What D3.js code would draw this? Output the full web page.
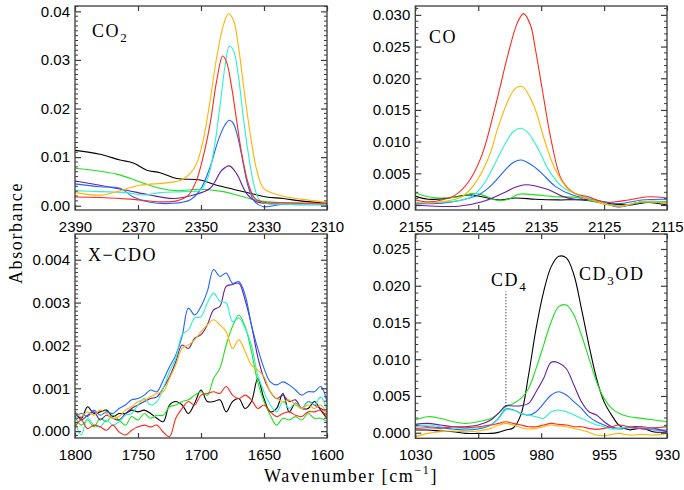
<!DOCTYPE html>
<html>
<head>
<meta charset="utf-8">
<script src="https://cdn.jsdelivr.net/npm/d3@7"></script>
<style>
  html, body { margin: 0; padding: 0; background: #fff; }
  svg { display: block; }
  .tick text { font-family: "Liberation Sans", Arial, sans-serif; font-size: 15px; fill: #000; }
  .lbl { font-family: "Liberation Serif", "Times New Roman", serif; font-size: 18px; letter-spacing: 1.6px; fill: #000; }
</style>
</head>
<body>
<svg id="chart" width="684" height="490"></svg>
<script>
// ---------- series colours (one per spectrum) ----------
const seriesNames = ["black", "green", "purple", "blue", "cyan", "red", "orange"];
const seriesColors = {
  black: "#000000", green: "#1ee01e", purple: "#6a1f9e", blue: "#1e66ff",
  cyan: "#2ff0cc", red: "#ff2a1a", orange: "#ffb400"
};

// ---------- CO2 band, [wavenumber, absorbance] ----------
const co2Black  = [[2390,0.0114],[2382.1,0.0106],[2375.7,0.0094],[2371.5,0.0088],[2367.2,0.0073],[2363,0.0068],[2357.7,0.0056],[2350.3,0.0053],[2345,0.0042],[2339.7,0.0034],[2333.4,0.0024],[2329.2,0.0018],[2323.9,0.0015],[2318.6,0.001],[2310,0.0005]];
const co2Green  = [[2390,0.0077],[2376.8,0.0065],[2369.4,0.0049],[2363,0.0036],[2357.7,0.0031],[2350.3,0.0034],[2342.9,0.0029],[2337.6,0.002],[2331.3,0.001],[2323.9,0.0006],[2310,0.0003]];
const co2Purple = [[2390,0.0051],[2382.1,0.0042],[2373.6,0.0032],[2366.2,0.0022],[2358.8,0.0015],[2352.4,0.0022],[2347.1,0.0036],[2343.4,0.0073],[2341,0.0082],[2338.7,0.0066],[2335.5,0.0025],[2332.3,0.0008],[2323.9,0.0003],[2310,0.0002]];
const co2Blue   = [[2390,0.0045],[2382.1,0.0039],[2375.7,0.0036],[2371.5,0.0018],[2366.2,0.0007],[2358.8,0.0005],[2353.5,0.0012],[2350.3,0.0032],[2347.1,0.008],[2344.5,0.0135],[2342.4,0.0166],[2341,0.0176],[2339.7,0.0169],[2338.1,0.0135],[2336.6,0.0087],[2335,0.0039],[2332.9,0.0008],[2330.2,-0.0002],[2323.9,0.0003],[2310,0.0002]];
const co2Cyan   = [[2390,0.0031],[2382.1,0.0029],[2373.6,0.0027],[2368.3,0.0022],[2363,0.0027],[2355.6,0.0029],[2350.3,0.0032],[2347.7,0.006],[2345.6,0.0128],[2344,0.0203],[2342.4,0.0286],[2341,0.0328],[2339.7,0.032],[2338.1,0.0265],[2336.6,0.0183],[2335,0.0108],[2333.4,0.0049],[2331.8,0.0015],[2330.2,0.0006],[2323.9,0.0003],[2310,0.0003]];
const co2Red    = [[2390,0.0018],[2382.1,0.0017],[2371.5,0.0013],[2363,0.0008],[2357.7,0.001],[2354,0.0022],[2351.4,0.0053],[2349.3,0.0101],[2347.1,0.0169],[2345,0.0258],[2343.1,0.0308],[2341.9,0.0296],[2340.3,0.0245],[2338.7,0.0176],[2337.1,0.0108],[2335,0.0046],[2332.9,0.0015],[2330.2,0.0007],[2323.9,0.0006],[2310,0.0005]];
const co2Orange = [[2390,0.0027],[2381,0.0022],[2375.7,0.0031],[2369.4,0.0042],[2360.9,0.0047],[2356.1,0.0053],[2353.5,0.0066],[2351.4,0.0087],[2349.3,0.0135],[2347.1,0.0217],[2345,0.0306],[2342.9,0.0371],[2341.3,0.0395],[2339.7,0.0382],[2338.1,0.0327],[2336.6,0.0252],[2334.4,0.0149],[2332.3,0.0073],[2330.2,0.0036],[2327,0.0025],[2322.8,0.0018],[2316.5,0.0012],[2310,0.0007]];

// ---------- CO band, [wavenumber, absorbance] ----------
const coBlack  = [[2155,0.0014],[2152.9,0.0009],[2149.7,0.0011],[2146.5,0.0016],[2144.4,0.0013],[2141.8,0.0008],[2139.1,0.0011],[2135.9,0.0009],[2132.2,0.0008],[2128.5,0.0008],[2124.8,0.0003],[2121.1,0.0],[2117.9,0.0004],[2115,0.0]];
const coGreen  = [[2155,0.0019],[2152.9,0.0013],[2150.8,0.0011],[2148.1,0.0013],[2146,0.0018],[2144.4,0.0016],[2141.8,0.0007],[2140.2,0.0009],[2138.6,0.0017],[2135.9,0.0016],[2132.7,0.0013],[2129.6,0.0012],[2126.4,0.0005],[2122.7,-0.0002],[2119,0.0004],[2115,0.0003]];
const coPurple = [[2155,0.0],[2148.1,-0.0002],[2144.4,0.0005],[2141.2,0.0018],[2139.1,0.0028],[2137.5,0.0032],[2135.9,0.003],[2133.8,0.0024],[2131.7,0.0014],[2129.6,0.0009],[2126.4,0.0008],[2122.7,-0.0003],[2119,0.0005],[2115,0.0005]];
const coBlue   = [[2155,0.0002],[2150.8,0.0003],[2147.6,0.0008],[2144.9,0.0016],[2142.8,0.0032],[2141.2,0.005],[2139.6,0.0066],[2138.2,0.0071],[2136.5,0.0063],[2134.9,0.005],[2132.7,0.0029],[2130.1,0.0016],[2126.4,0.0008],[2122.7,0.0002],[2119,0.0008],[2115,0.0009]];
const coCyan   = [[2155,0.0004],[2149.7,0.0005],[2146.5,0.0011],[2144.4,0.0029],[2142.3,0.0066],[2140.7,0.0097],[2139.4,0.0116],[2138.2,0.0121],[2137,0.0113],[2135.4,0.0087],[2133.8,0.0055],[2131.7,0.0029],[2129.6,0.0018],[2126.4,0.0008],[2122.7,-0.0002],[2119,0.0005],[2115,0.0005]];
const coRed    = [[2155,0.0008],[2152.9,0.0005],[2150.8,0.0008],[2148.6,0.0016],[2146.5,0.0037],[2144.4,0.0079],[2142.3,0.0155],[2140.2,0.024],[2138.8,0.0287],[2137.8,0.0302],[2136.7,0.0284],[2135.9,0.0245],[2134.9,0.0187],[2133.3,0.0097],[2131.7,0.0039],[2129.6,0.0018],[2127.5,0.0013],[2125.3,0.0005],[2123.2,0.0005],[2121.1,0.0008],[2117.9,0.0013],[2115,0.0011]];
const coOrange = [[2155,0.0005],[2152.9,0.0003],[2150.8,0.0005],[2147.6,0.0013],[2145.5,0.0034],[2143.3,0.0076],[2141.8,0.0124],[2140.2,0.0166],[2139.1,0.0184],[2138,0.0187],[2137,0.0174],[2135.9,0.015],[2134.3,0.0097],[2132.7,0.0055],[2130.6,0.0024],[2128.5,0.0013],[2125.3,0.0003],[2122.7,-0.0002],[2119,0.0005],[2115,0.0003]];

// ---------- X-CDO band: common grid, one absorbance per grid point ----------
const cdoWavenumbers = [1800,1795,1790,1785,1780,1775,1770,1765,1760,1755,1750,1745,1740,1735,1730,1725,1720,1715,1710,1705,1700,1695,1690,1685,1680,1675,1670,1665,1660,1655,1650,1645,1640,1635,1630,1625,1620,1615,1610,1605,1600];
const cdoBlack  = [0.00045,0.0003,0.00057,0.00041,0.00045,0.00049,0.00034,0.00041,0.00041,0.00049,0.00045,0.00049,0.00041,0.0003,0.00022,0.00061,0.00069,0.00061,0.00041,0.00065,0.00096,0.00069,0.00069,0.00073,0.00045,0.00069,0.00076,0.00053,0.00069,0.00123,0.00076,0.00045,0.00053,0.00088,0.00045,0.00065,0.00053,0.00053,0.00069,0.00049,0.0003];
const cdoGreen  = [0.00034,0.00014,0.00026,0.0001,0.0003,0.00022,0.00037,0.00026,0.00014,0.00034,0.00026,0.00041,0.0003,0.00037,0.00037,0.00057,0.00061,0.00069,0.00073,0.00084,0.00092,0.00084,0.00123,0.00147,0.00201,0.00244,0.00271,0.00244,0.00186,0.00115,0.00069,0.00037,0.00014,0.0003,0.00026,0.00034,0.00026,0.00041,0.0003,0.0003,0.00022];
const cdoPurple = [0.00045,0.00026,0.00037,0.00045,0.00026,0.00037,0.0003,0.00026,0.00041,0.00053,0.00061,0.00069,0.00076,0.0008,0.001,0.00127,0.00162,0.00201,0.00193,0.00217,0.00225,0.00248,0.00283,0.00291,0.00338,0.00342,0.00345,0.00306,0.00248,0.00174,0.00123,0.00092,0.00076,0.00084,0.00069,0.00073,0.00053,0.00069,0.00061,0.00053,0.00045];
const cdoBlue   = [0.00034,0.00041,0.00034,0.00049,0.00037,0.00045,0.00041,0.00053,0.00061,0.00073,0.00076,0.00084,0.00096,0.00092,0.00119,0.0015,0.00178,0.00221,0.00287,0.00271,0.00291,0.00326,0.00377,0.00361,0.00369,0.00345,0.00349,0.00318,0.00248,0.00193,0.00147,0.00115,0.00108,0.00115,0.00108,0.00096,0.00084,0.00092,0.00092,0.00104,0.00069];
const cdoCyan   = [0.00022,-0.00009,0.0003,0.00014,0.0001,0.00026,0.00014,0.00022,0.00037,0.00041,0.00061,0.00076,0.00061,0.00069,0.001,0.00139,0.0017,0.00225,0.00236,0.00264,0.00267,0.00299,0.00322,0.00303,0.00299,0.00256,0.00264,0.0024,0.00201,0.00131,0.00092,0.00061,0.00045,0.00069,0.00053,0.00065,0.00053,0.00069,0.00061,0.0008,0.00049];
const cdoRed    = [0.0001,0.00026,0.00006,0.00014,0.0001,0.00002,0.00014,-0.00002,-0.00009,0.00002,0.0001,0.00014,0.0001,0.00014,-0.00002,-0.00013,0.0003,0.00053,0.00069,0.00061,0.00084,0.00088,0.00092,0.00088,0.00104,0.00084,0.00076,0.00084,0.00073,0.00053,0.00061,0.00045,0.00034,0.00041,0.00045,0.00037,0.00034,0.00045,0.00045,0.00049,0.0003];
const cdoOrange = [0.00045,0.00034,0.00045,0.00037,0.00049,0.00041,0.0003,0.00034,0.00049,0.00057,0.00069,0.00073,0.0008,0.00088,0.00092,0.00123,0.00154,0.00193,0.00201,0.00213,0.00232,0.00248,0.0026,0.00248,0.00232,0.00193,0.00213,0.00186,0.00154,0.00143,0.00127,0.00092,0.00076,0.00069,0.00073,0.00061,0.00053,0.00061,0.00053,0.00061,0.00037];

// ---------- CD3OD / CD4 region: common grid ----------
const cdWavenumbers = [1030,1025,1020,1015,1010,1005,1000,997,994,991,988,985,982,979,976,973,970,967,964,961,958,955,952,949,945,940,935,930];
const cdBlack  = [0.00036,0.00036,0.00023,0.00014,-0.00009,-0.00009,-0.00009,0.00005,0.00036,0.00068,0.0025,0.00785,0.0142,0.0192,0.0226,0.024,0.0238,0.0215,0.0169,0.0119,0.0074,0.0042,0.0024,0.001,0.0004,0.0006,0.0001,0.0001];
const cdGreen  = [0.00172,0.00218,0.00195,0.0015,0.00127,0.0015,0.00195,0.00263,0.00354,0.00399,0.00467,0.00603,0.00876,0.01193,0.01511,0.01715,0.01737,0.01602,0.01329,0.01012,0.00694,0.00467,0.00331,0.00263,0.00218,0.00195,0.00172,0.0015];
const cdPurple = [0.00113,0.00127,0.00104,0.00082,0.00082,0.00104,0.00172,0.00263,0.00368,0.00363,0.00368,0.00399,0.00558,0.0074,0.0096,0.0095,0.0087,0.00649,0.00422,0.00286,0.0024,0.0015,0.00082,0.00059,0.00082,0.00082,0.00059,0.00014];
const cdBlue   = [0.00104,0.00082,0.00068,0.0005,0.00036,0.0005,0.00104,0.00195,0.00322,0.00309,0.00263,0.0024,0.00286,0.00399,0.00513,0.00558,0.00513,0.00422,0.00331,0.00218,0.0015,0.00104,0.00068,0.0005,0.00068,0.0005,0.00036,0.00036];
const cdCyan   = [0.00082,0.00104,0.00082,0.00068,0.00059,0.00068,0.00104,0.00186,0.00309,0.00309,0.00263,0.0024,0.00218,0.00195,0.00286,0.00309,0.00286,0.0024,0.00195,0.0015,0.00104,0.00082,0.0005,0.00059,0.00082,0.00059,0.00068,0.00082];
const cdRed    = [0.00059,0.00068,0.00059,0.00082,0.00068,0.00082,0.00104,0.00127,0.0015,0.00127,0.00104,0.00082,0.00082,0.00104,0.00127,0.00113,0.00104,0.00082,0.00082,0.00059,0.00045,0.00059,0.00082,0.00104,0.00082,0.00059,0.00068,0.00082];
const cdOrange = [-0.00054,-0.00009,0.00014,0.00023,0.00014,0.00023,0.00059,0.00104,0.00127,0.00104,0.00068,0.0005,0.00059,0.00082,0.00104,0.00091,0.00082,0.00059,0.00036,0.00005,-0.00032,-0.00041,-0.00023,-0.00009,-0.00032,-0.00023,-0.00032,-0.00009];

// CD4 marker position and extent
const cd4Marker = { wn: 994, from: 0.0036, to: 0.0192 };

// ---------- tick values ----------
const co2XTicks = [2390, 2370, 2350, 2330, 2310];
const co2YTicks = [0, 0.01, 0.02, 0.03, 0.04];
const coXTicks  = [2155, 2145, 2135, 2125, 2115];
const coYTicks  = [0, 0.005, 0.010, 0.015, 0.020, 0.025, 0.030];
const cdoXTicks = [1800, 1750, 1700, 1650, 1600];
const cdoYTicks = [0, 0.001, 0.002, 0.003, 0.004];
const cdXTicks  = [1030, 1005, 980, 955, 930];
const cdYTicks  = [0, 0.005, 0.010, 0.015, 0.020, 0.025];

const zipGrid = (grid, vals) => grid.map((w, i) => [w, vals[i]]);

const panels = [
  { box: [75, 6, 327, 210], xDomain: [2390, 2310], yDomain: [-0.00088, 0.0411],
    xTicks: co2XTicks, yTicks: co2YTicks, yMinor: 0.001, fmt: ".2f",
    series: { black: co2Black, green: co2Green, purple: co2Purple, blue: co2Blue, cyan: co2Cyan, red: co2Red, orange: co2Orange } },
  { box: [415.3, 6, 667, 210], xDomain: [2155, 2115], yDomain: [-0.00079, 0.0314],
    xTicks: coXTicks, yTicks: coYTicks, yMinor: 0.001, fmt: ".3f",
    series: { black: coBlack, green: coGreen, purple: coPurple, blue: coBlue, cyan: coCyan, red: coRed, orange: coOrange } },
  { box: [75, 234, 327, 438], xDomain: [1800, 1600], yDomain: [-0.00016, 0.0046],
    xTicks: cdoXTicks, yTicks: cdoYTicks, yMinor: 0.0001, fmt: ".3f",
    series: { black: zipGrid(cdoWavenumbers, cdoBlack), green: zipGrid(cdoWavenumbers, cdoGreen), purple: zipGrid(cdoWavenumbers, cdoPurple),
              blue: zipGrid(cdoWavenumbers, cdoBlue), cyan: zipGrid(cdoWavenumbers, cdoCyan), red: zipGrid(cdoWavenumbers, cdoRed), orange: zipGrid(cdoWavenumbers, cdoOrange) } },
  { box: [415.3, 234, 667, 438.3], xDomain: [1030, 930], yDomain: [-0.00076, 0.02704],
    xTicks: cdXTicks, yTicks: cdYTicks, yMinor: 0.001, fmt: ".3f",
    series: { black: zipGrid(cdWavenumbers, cdBlack), green: zipGrid(cdWavenumbers, cdGreen), purple: zipGrid(cdWavenumbers, cdPurple),
              blue: zipGrid(cdWavenumbers, cdBlue), cyan: zipGrid(cdWavenumbers, cdCyan), red: zipGrid(cdWavenumbers, cdRed), orange: zipGrid(cdWavenumbers, cdOrange) } }
];

const svg = d3.select("#chart");
const frameColor = "#3c3c3c";

panels.forEach((p, i) => {
  const [x0, y0, x1, y1] = p.box;
  const x = d3.scaleLinear().domain(p.xDomain).range([x0, x1]);
  const y = d3.scaleLinear().domain(p.yDomain).range([y1, y0]);
  p.x = x; p.y = y;

  const g = svg.append("g");
  const clipId = "clip" + i;
  svg.append("clipPath").attr("id", clipId)
    .append("rect").attr("x", x0).attr("y", y0).attr("width", x1 - x0).attr("height", y1 - y0);

  // spectra
  const line = d3.line().x(d => x(d[0])).y(d => y(d[1])).curve(d3.curveCatmullRom.alpha(0.5));
  const plot = g.append("g").attr("clip-path", `url(#${clipId})`);
  seriesNames.forEach(name => {
    plot.append("path").datum(p.series[name])
      .attr("d", line).attr("fill", "none")
      .attr("stroke", seriesColors[name]).attr("stroke-width", 1.1)
      .attr("stroke-linejoin", "round");
  });

  // minor y ticks (drawn on both sides, pointing inward)
  const minor = d3.range(Math.ceil(p.yDomain[0] / p.yMinor) * p.yMinor, p.yDomain[1], p.yMinor)
    .filter(v => !p.yTicks.some(t => Math.abs(t - v) < p.yMinor / 10));
  const mg = g.append("g").attr("stroke", frameColor).attr("stroke-width", 1);
  minor.forEach(v => {
    mg.append("line").attr("x1", x0).attr("x2", x0 + 3).attr("y1", y(v)).attr("y2", y(v));
    mg.append("line").attr("x1", x1).attr("x2", x1 - 3).attr("y1", y(v)).attr("y2", y(v));
  });

  const styleAxis = sel => {
    sel.select(".domain").remove();
    sel.selectAll(".tick line").attr("stroke", frameColor).attr("stroke-width", 1.2);
    sel.attr("font-family", null).attr("font-size", null);
  };

  g.append("g").attr("transform", `translate(0,${y1})`)
    .call(d3.axisBottom(x).tickValues(p.xTicks).tickFormat(d3.format("d")).tickSize(-5).tickPadding(11))
    .call(styleAxis);
  g.append("g").attr("transform", `translate(0,${y0})`)
    .call(d3.axisTop(x).tickValues(p.xTicks).tickFormat("").tickSize(-5))
    .call(styleAxis);
  g.append("g").attr("transform", `translate(${x0},0)`)
    .call(d3.axisLeft(y).tickValues(p.yTicks).tickFormat(d3.format(p.fmt)).tickSize(-6).tickPadding(5))
    .call(styleAxis);
  g.append("g").attr("transform", `translate(${x1},0)`)
    .call(d3.axisRight(y).tickValues(p.yTicks).tickFormat("").tickSize(-6))
    .call(styleAxis);

  g.append("rect").attr("x", x0).attr("y", y0).attr("width", x1 - x0).attr("height", y1 - y0)
    .attr("fill", "none").attr("stroke", frameColor).attr("stroke-width", 1.3);
});

// CD4 marker line
const pCD = panels[3];
svg.append("line")
  .attr("x1", pCD.x(cd4Marker.wn)).attr("x2", pCD.x(cd4Marker.wn))
  .attr("y1", pCD.y(cd4Marker.from)).attr("y2", pCD.y(cd4Marker.to))
  .attr("stroke", "#000").attr("stroke-width", 1).attr("stroke-dasharray", "1,2");

// band labels
function label(xp, yp, parts) {
  const t = svg.append("text").attr("class", "lbl").attr("x", xp).attr("y", yp);
  parts.forEach(([s, sub]) => {
    const ts = t.append("tspan").text(s);
    if (sub === 1) ts.attr("dy", 5).attr("font-size", "13px");
    if (sub === -1) ts.attr("dy", -5).attr("font-size", "18px");
  });
  return t;
}
label(92, 37, [["CO"], ["2", 1]]);
label(429, 43, [["CO"]]);
label(88, 261, [["X\u2212CDO"]]);
label(491, 286, [["CD"], ["4", 1]]);
label(579, 280, [["CD"], ["3", 1], ["OD", -1]]);

// axis titles
svg.append("text").attr("class", "lbl")
  .attr("transform", "translate(22,233) rotate(-90)")
  .attr("text-anchor", "middle").text("Absorbance");

const xt = svg.append("text").attr("class", "lbl").attr("x", 264).attr("y", 482);
xt.append("tspan").text("Wavenumber [cm");
xt.append("tspan").attr("dy", -8).attr("font-size", "12px").text("\u22121");
xt.append("tspan").attr("dy", 8).text("]");
</script>
</body>
</html>
